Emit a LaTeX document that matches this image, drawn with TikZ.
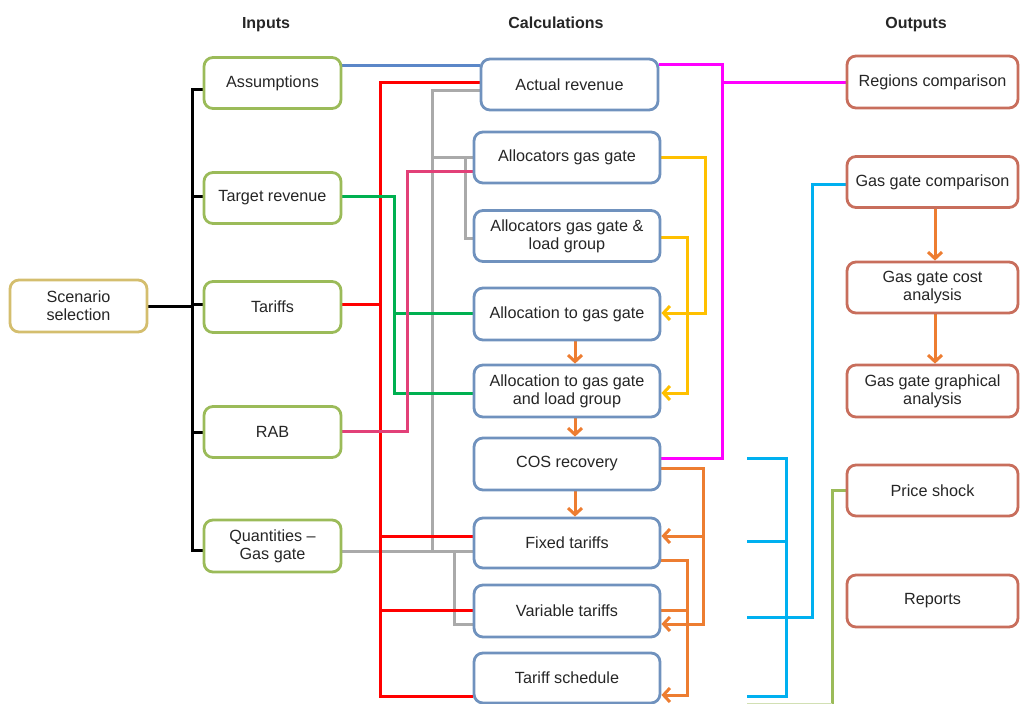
\documentclass[tikz,border=0pt]{standalone}
\usepackage{fontspec}
\setmainfont{Liberation Sans}
\usetikzlibrary{arrows.meta,backgrounds}
\definecolor{cIn}{RGB}{155,187,89}
\definecolor{cScn}{RGB}{212,190,110}
\definecolor{cCalc}{RGB}{112,146,190}
\definecolor{cOut}{RGB}{200,110,92}
\definecolor{lBlue}{RGB}{91,135,200}
\definecolor{lRed}{RGB}{255,0,0}
\definecolor{lGreen}{RGB}{0,176,80}
\definecolor{lPink}{RGB}{226,64,120}
\definecolor{lGray}{RGB}{170,170,170}
\definecolor{lYellow}{RGB}{255,192,0}
\definecolor{lOrange}{RGB}{237,125,49}
\definecolor{lMag}{RGB}{255,0,255}
\definecolor{lCyan}{RGB}{0,176,240}
\definecolor{lOlive}{RGB}{155,187,89}
\definecolor{txt}{RGB}{38,38,38}
\tikzset{
  basebox/.style={draw, line width=2.8pt, rounded corners=9pt, fill=white, align=center, inner sep=0pt,
    text=txt, font=\fontsize{16.2}{17.8}\selectfont},
  inbox/.style={basebox, draw=cIn, minimum width=137pt, minimum height=51pt},
  scnbox/.style={basebox, draw=cScn, minimum width=137pt, minimum height=52pt},
  calcbox/.style={basebox, draw=cCalc, minimum width=186pt, minimum height=51pt},
  outbox/.style={basebox, draw=cOut, minimum width=171pt, minimum height=51pt},
  hdr/.style={font=\fontsize{16}{18}\selectfont\bfseries, text=txt, anchor=base},
  conn/.style={line width=3pt},
  arr/.style={conn, -{Straight Barb[length=6.5pt,width=14pt]}},
}
\begin{document}
\begin{tikzpicture}[x=1pt,y=-1pt]
\useasboundingbox (0,0) rectangle (1020,704);
% headers
\node[hdr] (hIn) at (266,28) {Inputs};
\node[hdr] (hCalc) at (556,28) {Calculations};
\node[hdr] (hOut) at (916,28) {Outputs};

% nodes
\node[scnbox] (scn) at (78.5,306) {Scenario\\selection};
\node[inbox] (asm) at (272.5,83) {Assumptions};
\node[inbox] (trev) at (272.5,198) {Target revenue};
\node[inbox] (tar) at (272.5,307) {Tariffs};
\node[inbox] (rab) at (272.5,432) {RAB};
\node[inbox,minimum height=52pt] (qty) at (272.5,546) {Quantities --\\Gas gate};

\node[calcbox,minimum width=177pt] (act) at (569.5,84.5) {Actual revenue};
\node[calcbox] (agg) at (567,157.5) {Allocators gas gate};
\node[calcbox] (agl) at (567,236) {Allocators gas gate \&\\load group};
\node[calcbox,minimum height=52pt] (a2g) at (567,314) {Allocation to gas gate};
\node[calcbox,minimum height=52pt] (a2l) at (567,391) {Allocation to gas gate\\and load group};
\node[calcbox,minimum height=52pt] (cos) at (567,464) {COS recovery};
\node[calcbox,minimum height=50pt] (fix) at (567,543) {Fixed tariffs};
\node[calcbox,minimum height=52pt] (var) at (567,611) {Variable tariffs};
\node[calcbox,minimum height=50pt] (sch) at (567,678) {Tariff schedule};

\node[outbox,minimum height=52pt] (reg) at (932.5,82) {Regions comparison};
\node[outbox] (ggc) at (932.5,182) {Gas gate comparison};
\node[outbox] (gca) at (932.5,287.5) {Gas gate cost\\analysis};
\node[outbox,minimum height=52pt] (gga) at (932.5,391) {Gas gate graphical\\analysis};
\node[outbox] (ps) at (932.5,490.5) {Price shock};
\node[outbox,minimum height=52pt] (rep) at (932.5,601) {Reports};

\begin{scope}[on background layer]
% black tree
\draw[conn,black] (scn.east) -- (194,306);
\draw[conn,black] (asm.west) ++(0,6) -- ++(-10,0) |- ([yshift=-4pt]qty.west);
\draw[conn,black] (trev.west) ++(0,-2) -- ++(-10,0);
\draw[conn,black] (tar.west) ++(0,-3) -- ++(-10,0);
\draw[conn,black] (rab.west) -- ++(-10,0);
% blue
\draw[conn,lBlue] (asm.east |- 0,65) -- (act.west |- 0,65);
% gray
\draw[conn,lGray] (qty.east |- 0,551) -- (fix.west |- 0,551);
\draw[conn,lGray] (432,551) -- (432,90) -- (act.west |- 0,90);
\draw[conn,lGray] (432,157) -- (agg.west |- 0,157);
\draw[conn,lGray] (465,157) |- (agl.west |- 0,238);
\draw[conn,lGray] (454,551) |- (var.west |- 0,624);
% red
\draw[conn,lRed] (act.west |- 0,82) -| (380,696) -- (sch.west |- 0,696);
\draw[conn,lRed] (tar.east |- 0,304) -- (380,304);
\draw[conn,lRed] (380,536) -- (fix.west |- 0,536);
\draw[conn,lRed] (380,610) -- (var.west |- 0,610);
% green
\draw[conn,lGreen] (trev.east |- 0,196) -| (394,393) -- (a2l.west |- 0,393);
\draw[conn,lGreen] (394,313) -- (a2g.west |- 0,313);
% pink
\draw[conn,lPink] (rab.east |- 0,431) -| (407,171) -- (agg.west |- 0,171);
% yellow
\draw[arr,lYellow] (agg.east) -| (705,313) -- (a2g.east |- 0,313);
\draw[arr,lYellow] (agl.east |- 0,237) -| (687,393) -- (a2l.east |- 0,393);
% orange vertical
\draw[arr,lOrange] (a2g.south -| 575,0) -- (a2l.north -| 575,0);
\draw[arr,lOrange] (a2l.south -| 575,0) -- (cos.north -| 575,0);
\draw[arr,lOrange] (cos.south -| 575,0) -- (fix.north -| 575,0);
% orange right side
\draw[arr,lOrange] (cos.east |- 0,468) -| (703,624) -- (var.east |- 0,624);
\draw[arr,lOrange] (703,536) -- (fix.east |- 0,536);
\draw[arr,lOrange] (fix.east |- 0,560) -| (687,695) -- (sch.east |- 0,695);
\draw[conn,lOrange] (var.east |- 0,610) -- (687,610);
% magenta
\draw[conn,lMag] (cos.east |- 0,458) -| (722,64) -- (act.east |- 0,64);
\draw[conn,lMag] (722,82) -- (reg.west |- 0,82);
% cyan
\coordinate (c1) at (747,458);
\coordinate (c2) at (747,541);
\coordinate (c3) at (747,617);
\coordinate (c4) at (747,696);
\draw[conn,lCyan] (c1) -- (786,458) -- (786,696) -- (c4);
\draw[conn,lCyan] (c2) -- (786,541);
\draw[conn,lCyan] (c3) -- (812,617) |- (ggc.west |- 0,184);
% olive
\coordinate (o1) at (832,705);
\draw[conn,lOlive] (ps.west) -| (o1);
\draw[conn,lOlive!45] (747,704) -- (832,704);
% right orange
\draw[arr,lOrange] (ggc.south -| 935,0) -- (gca.north -| 935,0);
\draw[arr,lOrange] (gca.south -| 935,0) -- (gga.north -| 935,0);
\end{scope}
\end{tikzpicture}
\end{document}
